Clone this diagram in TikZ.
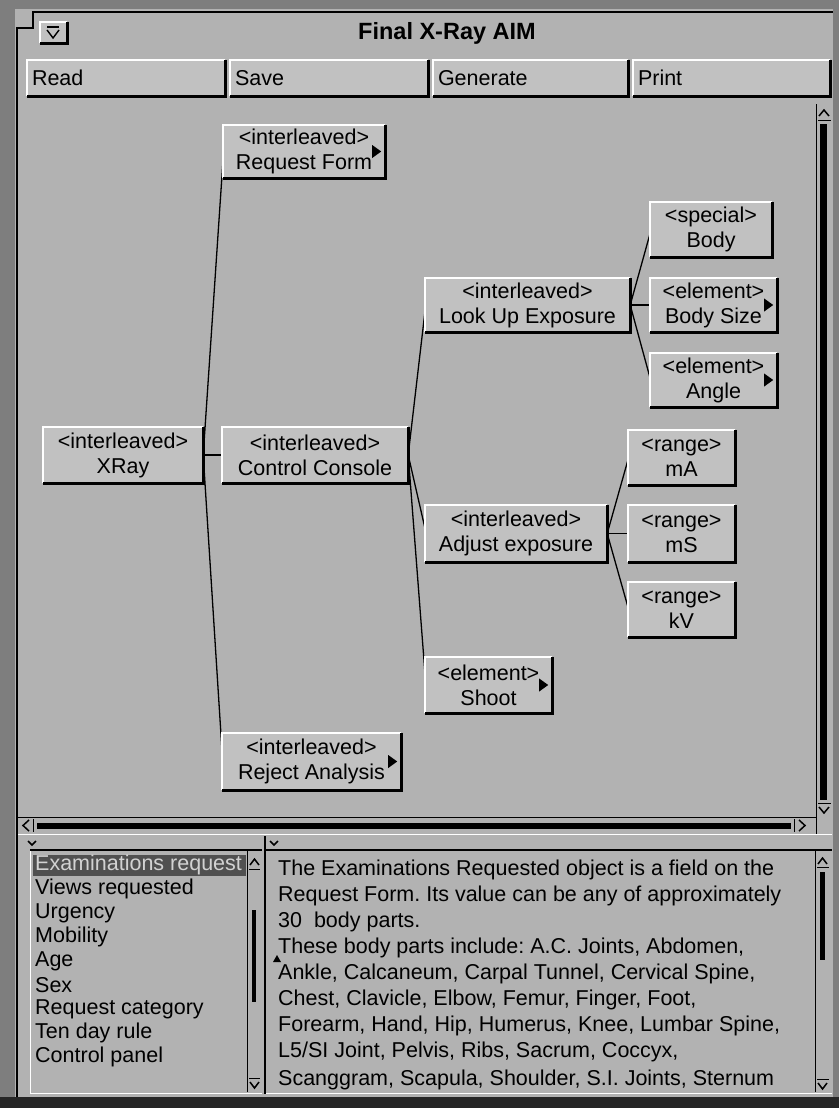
\documentclass[tikz,border=0pt]{standalone}
\usepackage{fontspec}
\setmainfont{Liberation Sans}
\frenchspacing
\definecolor{bg}{HTML}{B2B2B2}
\definecolor{boxfill}{HTML}{C1C1C1}
\definecolor{framegray}{HTML}{7E7E7E}
\definecolor{sel}{HTML}{505050}
\definecolor{seltext}{HTML}{D2D2D2}
\begin{document}
\begin{tikzpicture}[x=1pt,y=-1pt,
  ui/.style={font=\fontsize{21.5}{25}\selectfont},
  tbox/.style={ui, fill=boxfill, inner sep=0pt, align=center},
  btn/.style={ui, fill=boxfill, inner ysep=0pt, inner xsep=5pt, align=left, minimum height=36pt},
  link/.style={black, line width=1.3pt},
  hilite/.style={white, line width=1.5pt},
  shade/.style={black, line width=3pt},
  chev/.style={black, line width=1.5pt},
  thinline/.style={black, line width=1pt},
  itemtxt/.style={font=\fontsize{21.5}{24}\selectfont, anchor=west, inner sep=0pt},
]
\useasboundingbox (0,0) rectangle (839,1108);

% window body and frame
\fill[bg] (0,0) rectangle (839,1108);
\fill[framegray] (0,0) rectangle (15,1108);
\fill[framegray] (0,0) rectangle (839,9);
\fill[framegray] (833,0) rectangle (839,1108);
\fill[black!85] (0,1097) rectangle (839,1108);
\draw[black, line width=2.2pt] (17,1097) -- (17,28) -- (33,28) -- (33,12) -- (833,12);

% title bar
\node[fill=boxfill, minimum width=27pt, minimum height=21pt, inner sep=0pt] (cb) at (53.5,32.5) {};
\draw[black, line width=1.4pt] (47,27) -- (59,27);
\draw[black, line width=1.4pt] (47,30) -- (53,38) -- (59,30);
\node[font=\fontsize{23.5}{26}\selectfont\bfseries] (title) at (447,33) {Final X-Ray AIM};

% command buttons
\node[btn, text width=188pt] (read)  at (126,78)   {Read};
\node[btn, text width=188pt] (save)  at (329,78)   {Save};
\node[btn, text width=185pt] (gen)   at (530.5,78) {Generate};
\node[btn, text width=187pt] (print) at (731.5,78) {Print};

% tree boxes
\node[tbox, minimum width=162pt, minimum height=53pt] (rf)  at (304,151.5)   {<interleaved>\\Request Form};
\node[tbox, minimum width=160pt, minimum height=56pt] (xr)  at (123,455)     {<interleaved>\\XRay};
\node[tbox, minimum width=186pt, minimum height=56pt] (cc)  at (315,455)     {<interleaved>\\Control Console};
\node[tbox, minimum width=179pt, minimum height=57pt] (ra)  at (311.5,761.5) {<interleaved>\\Reject Analysis};
\node[tbox, minimum width=205pt, minimum height=54pt] (lue) at (527.5,305)   {<interleaved>\\Look Up Exposure};
\node[tbox, minimum width=182pt, minimum height=57pt] (ae)  at (516,533.5)   {<interleaved>\\Adjust exposure};
\node[tbox, minimum width=127pt, minimum height=56pt] (sh)  at (488.5,685)   {<element>\\Shoot};
\node[tbox, minimum width=122pt, minimum height=55pt] (bo)  at (711,229.5)   {<special>\\Body};
\node[tbox, minimum width=127pt, minimum height=54pt] (bs)  at (713.5,305)   {<element>\\Body Size};
\node[tbox, minimum width=127pt, minimum height=54pt] (an)  at (713.5,380)   {<element>\\Angle};
\node[tbox, minimum width=107pt, minimum height=55pt] (ma)  at (681.5,457.5) {<range>\\mA};
\node[tbox, minimum width=107pt, minimum height=57pt] (ms)  at (681.5,533.5) {<range>\\mS};
\node[tbox, minimum width=107pt, minimum height=55pt] (kv)  at (681.5,609.5) {<range>\\kV};

% tree connectors
\draw[link] (xr.east) -- ([yshift=-12pt]rf.west);
\draw[link] (xr.east) -- (cc.west);
\draw[link] (xr.east) -- ([yshift=14pt]ra.west);
\draw[link] (cc.east) -- ([yshift=-8pt]lue.west);
\draw[link] (cc.east) -- ([yshift=6pt]ae.west);
\draw[link] (cc.east) -- ([yshift=14pt]sh.west);
\draw[link] (lue.east) -- ([yshift=-5pt]bo.west);
\draw[link] (lue.east) -- (bs.west);
\draw[link] (lue.east) -- ([yshift=3pt]an.west);
\draw[link] (ae.east) -- ([yshift=-3pt]ma.west);
\draw[link] (ae.east) -- (ms.west);
\draw[link] (ae.east) -- ([yshift=3pt]kv.west);

% raised edges of buttons and boxes
\foreach \n in {cb,read,save,gen,print,rf,xr,cc,ra,lue,ae,sh,bo,bs,an,ma,ms,kv} {
  \draw[hilite] (\n.south west) -- (\n.north west) -- (\n.north east);
  \draw[shade] (\n.north east) -- (\n.south east) -- (\n.south west);
}

% expand markers
\foreach \n in {rf,bs,an,sh,ra}
  \fill[black] ([xshift=-13pt,yshift=6.5pt]\n.east) -- ([xshift=-4pt]\n.east)
     -- ([xshift=-13pt,yshift=-6.5pt]\n.east) -- cycle;

% vertical scrollbar of the tree view
\draw[thinline] (816,104) -- (816,834);
\draw[chev] (819,116) -- (824,110) -- (829,116);
\draw[thinline] (818,120) -- (831,120);
\fill[black] (820,124) rectangle (827,800);
\draw[thinline] (818,803) -- (831,803);
\draw[chev] (819,807) -- (824,813) -- (829,807);

% horizontal scrollbar of the tree view
\draw[thinline] (18,817) -- (816,817);
\draw[chev] (29,820) -- (23,825.5) -- (29,831);
\draw[thinline] (33,819) -- (33,832);
\fill[black] (37,822.5) rectangle (791,829);
\draw[thinline] (794,819) -- (794,832);
\draw[chev] (799,820) -- (805,825.5) -- (799,831);
\draw[white, line width=1pt] (18,834) -- (832,834);

% pane sash markers
\draw[chev] (28,841) -- (32,845) -- (36,841);
\draw[chev] (270,841) -- (274,845) -- (278,841);

% lower panes
\draw[black, line width=2pt] (30,850) -- (262,850);
\draw[black, line width=2pt] (266,850) -- (832,850);
\draw[black, line width=2pt] (265,836) -- (265,1094);
\draw[white, line width=1pt] (30,851) -- (30,1093) -- (262,1093);
\draw[white, line width=1pt] (266,1093) -- (832,1093);

% list scrollbar
\draw[thinline] (247,851) -- (247,1092);
\draw[chev] (250,865) -- (254.5,859) -- (259,865);
\draw[thinline] (249,869) -- (260,869);
\fill[black] (252,910) rectangle (256,1002);
\draw[thinline] (249,1078) -- (260,1078);
\draw[chev] (250,1082) -- (254.5,1088) -- (259,1082);

% text scrollbar
\draw[thinline] (815,851) -- (815,1092);
\draw[chev] (818,864) -- (822.5,858) -- (827,864);
\draw[thinline] (817,867) -- (829,867);
\fill[black] (820,872) rectangle (825,960);
\draw[thinline] (817,1079) -- (829,1079);
\draw[chev] (818,1083) -- (822.5,1089) -- (827,1083);

% object list
\begin{scope}
\clip (31,851) rectangle (246,1092);
\fill[sel] (33,855) rectangle (246,876);
\node[itemtxt, text=seltext] (l1) at (35,865) {Examinations request};
\node[itemtxt] (l2) at (35,889) {Views requested};
\node[itemtxt] (l3) at (35,913) {Urgency};
\node[itemtxt] (l4) at (35,937) {Mobility};
\node[itemtxt] (l5) at (35,961) {Age};
\node[itemtxt] (l6) at (35,985) {Sex};
\node[itemtxt] (l7) at (35,1009) {Request category};
\node[itemtxt] (l8) at (35,1033) {Ten day rule};
\node[itemtxt] (l9) at (35,1057) {Control panel};
\end{scope}

% description text
\begin{scope}
\clip (267,851) rectangle (814,1091);
\node[itemtxt] (t1) at (278,870)  {The Examinations Requested object is a field on the};
\node[itemtxt] (t2) at (278,896)  {Request Form. Its value can be any of approximately};
\node[itemtxt] (t3) at (278,922)  {30\ \ body parts.};
\node[itemtxt] (t4) at (278,948)  {These body parts include: A.C. Joints, Abdomen,};
\node[itemtxt] (t5) at (278,974)  {Ankle, Calcaneum, Carpal Tunnel, Cervical Spine,};
\node[itemtxt] (t6) at (278,1000) {Chest, Clavicle, Elbow, Femur, Finger, Foot,};
\node[itemtxt] (t7) at (278,1026) {Forearm, Hand, Hip, Humerus, Knee, Lumbar Spine,};
\node[itemtxt] (t8) at (278,1052) {L5/SI Joint, Pelvis, Ribs, Sacrum, Coccyx,};
\node[itemtxt] (t9) at (278,1080) {Scanggram, Scapula, Shoulder, S.I. Joints, Sternum};
\fill[black] (273,962) -- (277,955) -- (281,962) -- cycle;
\end{scope}
\end{tikzpicture}
\end{document}
